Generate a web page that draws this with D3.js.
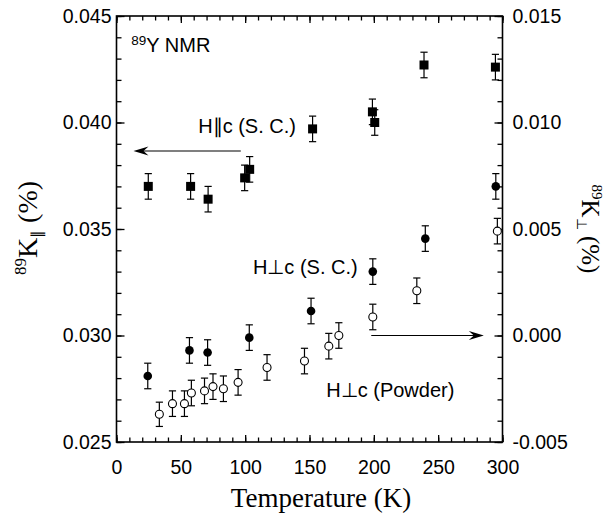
<!DOCTYPE html>
<html>
<head>
<meta charset="utf-8">
<script src="https://cdn.jsdelivr.net/npm/d3@7"></script>
<style>
  html, body { margin: 0; padding: 0; background: #fff; }
  svg { display: block; }
  .sans { font-family: "Liberation Sans", Arial, Helvetica, sans-serif; }
  .serif { font-family: "Liberation Serif", "Times New Roman", serif; }
</style>
</head>
<body>
<svg id="chart" width="607" height="517"></svg>
<script>
// 89Y NMR Knight shift vs temperature
// H || c, single crystal (left axis, K_par in %)
const tempPar = [24.7, 57.6, 71.2, 99.6, 103.5, 152.4, 198.9, 200.7, 239.0, 294.5];
const kPar    = [0.0370, 0.0370, 0.0364, 0.0374, 0.0378, 0.0397, 0.0405, 0.0400, 0.0427, 0.0426];
const errPar  = [0.0006, 0.0006, 0.0006, 0.0006, 0.0006, 0.0006, 0.0006, 0.0006, 0.0006, 0.0006];

// H perp c, single crystal (right axis, K_perp in %)
const tempPerpSC = [24.3, 56.7, 70.8, 103.2, 151.2, 199.2, 240.0, 294.8];
const kPerpSC    = [-0.0019, -0.0007, -0.0008, -0.0001, 0.00115, 0.0030, 0.00455, 0.0070];
const errPerpSC  = [0.0006, 0.0006, 0.0006, 0.0006, 0.0006, 0.0006, 0.0006, 0.0006];

// H perp c, powder (right axis, K_perp in %)
const tempPowder = [33.3, 43.5, 52.8, 58.2, 68.4, 75.0, 83.1, 94.5, 117.0, 146.1, 165.0, 172.8, 199.2, 233.4, 296.0];
const kPowder    = [-0.0037, -0.0032, -0.0032, -0.0027, -0.0026, -0.0024, -0.0025, -0.0022, -0.0015, -0.0012, -0.0005, 0.0000, 0.00087, 0.0021, 0.0049];
const errPowder  = [0.00057, 0.0006, 0.0006, 0.0006, 0.0006, 0.0006, 0.0006, 0.0006, 0.0006, 0.0006, 0.0006, 0.0006, 0.0006, 0.0006, 0.0006];

// axis ticks and labels
const tempTicks = [0, 50, 100, 150, 200, 250, 300];
const leftTicks = [0.025, 0.030, 0.035, 0.040, 0.045];
const leftTickLabels = ["0.025", "0.030", "0.035", "0.040", "0.045"];
const rightTicks = [-0.005, 0.000, 0.005, 0.010, 0.015];
const rightTickLabels = ["-0.005", "0.000", "0.005", "0.010", "0.015"];

const svg = d3.select("#chart");
const L = 116.5, R = 502.5, T = 16, B = 442;

const x = d3.scaleLinear().domain([0, 300]).range([L, R]);
const yL = d3.scaleLinear().domain([0.025, 0.045]).range([B, T]);
const yR = d3.scaleLinear().domain([-0.005, 0.015]).range([B, T]);

const tickFont = "19.5px";
const annFont = "20px";

function styleAxis(g) {
  g.select(".domain").remove();
  g.selectAll(".tick line").attr("stroke", "#000").attr("stroke-width", 1.3);
  g.selectAll(".tick text").attr("fill", "#000").attr("class", "sans").style("font-size", tickFont);
}

// minor ticks every 10 K / every 0.001
const minorT = d3.range(0, 301, 10);
const minorY = d3.range(0, 21).map(i => 0.025 + i * 0.001);
const minorYR = d3.range(0, 21).map(i => -0.005 + i * 0.001);

svg.append("g").attr("transform", `translate(0,${B})`)
  .call(d3.axisBottom(x).tickValues(minorT).tickSize(-4.5).tickFormat(""))
  .call(styleAxis);
svg.append("g").attr("transform", `translate(0,${B})`)
  .call(d3.axisBottom(x).tickValues(tempTicks).tickSizeInner(-7).tickSizeOuter(0).tickPadding(18.5).tickFormat(d3.format("d")))
  .call(styleAxis);

svg.append("g").attr("transform", `translate(0,${T})`)
  .call(d3.axisTop(x).tickValues(minorT).tickSize(-4.5).tickFormat(""))
  .call(styleAxis);
svg.append("g").attr("transform", `translate(0,${T})`)
  .call(d3.axisTop(x).tickValues(tempTicks).tickSize(-7).tickFormat(""))
  .call(styleAxis);

svg.append("g").attr("transform", `translate(${L},0)`)
  .call(d3.axisLeft(yL).tickValues(minorY).tickSize(-5).tickFormat(""))
  .call(styleAxis);
svg.append("g").attr("transform", `translate(${L},0)`)
  .call(d3.axisLeft(yL).tickValues(leftTicks).tickSizeInner(-8).tickSizeOuter(0).tickPadding(5)
    .tickFormat((d, i) => leftTickLabels[i]))
  .call(styleAxis);

svg.append("g").attr("transform", `translate(${R},0)`)
  .call(d3.axisRight(yR).tickValues(minorYR).tickSize(-5).tickFormat(""))
  .call(styleAxis);
svg.append("g").attr("transform", `translate(${R},0)`)
  .call(d3.axisRight(yR).tickValues(rightTicks).tickSizeInner(-8).tickSizeOuter(0).tickPadding(10)
    .tickFormat((d, i) => rightTickLabels[i]))
  .call(styleAxis);

// frame
svg.append("rect").attr("x", L).attr("y", T).attr("width", R - L).attr("height", B - T)
  .attr("fill", "none").attr("stroke", "#000").attr("stroke-width", 1.6);

// build series records
const seriesPar = tempPar.map((t, i) => ({ t, v: kPar[i], e: errPar[i] }));
const seriesSC = tempPerpSC.map((t, i) => ({ t, v: kPerpSC[i], e: errPerpSC[i] }));
const seriesPow = tempPowder.map((t, i) => ({ t, v: kPowder[i], e: errPowder[i] }));

function errorBars(data, yScale) {
  const g = svg.append("g").attr("stroke", "#000").attr("stroke-width", 1.2);
  const cap = 3.6;
  data.forEach(d => {
    const cx = x(d.t), y0 = yScale(d.v - d.e), y1 = yScale(d.v + d.e);
    g.append("line").attr("x1", cx).attr("x2", cx).attr("y1", y0).attr("y2", y1);
    g.append("line").attr("x1", cx - cap).attr("x2", cx + cap).attr("y1", y0).attr("y2", y0);
    g.append("line").attr("x1", cx - cap).attr("x2", cx + cap).attr("y1", y1).attr("y2", y1);
  });
}

errorBars(seriesPar, yL);
errorBars(seriesSC, yR);
errorBars(seriesPow, yR);

const sq = 9;
svg.append("g").selectAll("rect").data(seriesPar).join("rect")
  .attr("x", d => x(d.t) - sq / 2).attr("y", d => yL(d.v) - sq / 2)
  .attr("width", sq).attr("height", sq).attr("fill", "#000");

svg.append("g").selectAll("circle").data(seriesSC).join("circle")
  .attr("cx", d => x(d.t)).attr("cy", d => yR(d.v)).attr("r", 4.3).attr("fill", "#000");

svg.append("g").selectAll("circle").data(seriesPow).join("circle")
  .attr("cx", d => x(d.t)).attr("cy", d => yR(d.v)).attr("r", 4).attr("fill", "#fff")
  .attr("stroke", "#000").attr("stroke-width", 1.1);

// arrows pointing to the axis each series belongs to
function arrow(t0, t1, yPix) {
  const x0 = x(t0), x1 = x(t1);
  const dir = Math.sign(x1 - x0);
  svg.append("line").attr("x1", x0).attr("x2", x1 - dir * 6).attr("y1", yPix).attr("y2", yPix)
    .attr("stroke", "#000").attr("stroke-width", 1.1);
  const len = 15, half = 4.5, notch = 10;
  svg.append("path")
    .attr("d", `M${x1},${yPix} L${x1 - dir * len},${yPix - half} L${x1 - dir * notch},${yPix} L${x1 - dir * len},${yPix + half} Z`)
    .attr("fill", "#000");
}
arrow(96.6, 13.2, yL(0.03866));
arrow(198.0, 285.5, yR(0.0));

// annotations
const ann = svg.append("g").attr("class", "sans").attr("fill", "#000");
const nmr = ann.append("text").attr("x", x(11.5)).attr("y", yL(0.0433)).style("font-size", annFont);
nmr.append("tspan").text("89").style("font-size", "13.5px").attr("dy", -7.5);
nmr.append("tspan").text("Y NMR").attr("dy", 7.5);

ann.append("text").attr("x", x(63.5)).attr("y", yL(0.0395)).style("font-size", annFont).text("H\u2225c (S. C.)");
ann.append("text").attr("x", x(106)).attr("y", yR(0.0029)).style("font-size", annFont).text("H\u22a5c (S. C.)");
ann.append("text").attr("x", x(163)).attr("y", yR(-0.0029)).style("font-size", annFont).text("H\u22a5c (Powder)");

// axis titles
svg.append("text").attr("class", "serif").attr("x", 321).attr("y", 507)
  .attr("text-anchor", "middle").style("font-size", "27px").attr("fill", "#000")
  .text("Temperature (K)");

const yl = svg.append("text").attr("class", "serif").attr("text-anchor", "middle").attr("fill", "#000")
  .attr("transform", "translate(37,228) rotate(-90)").style("font-size", "28px");
yl.append("tspan").text("89").style("font-size", "17px").attr("dy", -11);
yl.append("tspan").text("K").attr("dy", 11);
yl.append("tspan").text("\u2225").style("font-size", "15px").attr("dy", 5);
yl.append("tspan").text(" (%)").attr("dy", -5);

const yr = svg.append("text").attr("class", "serif").attr("text-anchor", "middle").attr("fill", "#000")
  .attr("transform", "translate(582,229) rotate(90)").style("font-size", "25px");
yr.append("tspan").text("89").style("font-size", "15px").attr("dy", -10);
yr.append("tspan").text("K").attr("dy", 10);
yr.append("tspan").text("\u22a5").style("font-size", "14px").attr("dy", 5);
yr.append("tspan").text(" (%)").attr("dy", -5);
</script>
</body>
</html>
